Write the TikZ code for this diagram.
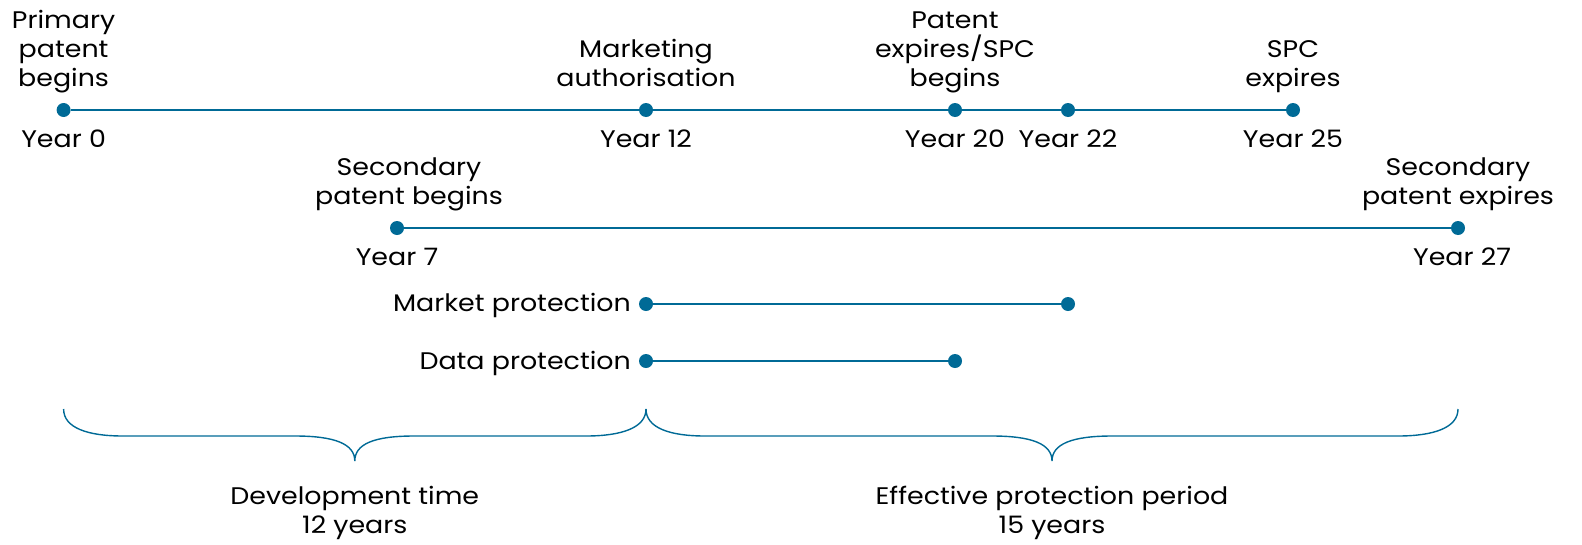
\documentclass[tikz,border=0pt]{standalone}
\usepackage{fontspec}
\setmainfont{Poppins}[FakeStretch=1.12]
\definecolor{tl}{RGB}{0,106,150}
\begin{document}
\begin{tikzpicture}[x=1pt,y=-1pt,
  dot/.style={circle,fill=tl,inner sep=0pt,minimum size=14pt},
  seg/.style={draw=tl,line width=2.5pt},
  brc/.style={draw=tl,line width=1.4pt},
  lbl/.style={inner sep=0pt,align=center,font=\fontsize{24}{29}\selectfont,text depth=0pt},
  yr/.style={inner sep=0pt,anchor=base,font=\fontsize{24}{29}\selectfont}]
\useasboundingbox (0,0) rectangle (1582,544);
% dots, row 1
\node[dot] (d0) at (63.6,110) {};
\node[dot] (d12) at (646,110) {};
\node[dot] (d20) at (955,110) {};
\node[dot] (d22) at (1068,110) {};
\node[dot] (d25) at (1293,110) {};
% row 2
\node[dot] (d7) at (397,228) {};
\node[dot] (d27) at (1458,228) {};
% protection rows
\node[dot] (m1) at (646,304) {};
\node[dot] (m2) at (1068,304) {};
\node[dot] (p1) at (646,361) {};
\node[dot] (p2) at (955,361) {};
% lines
\draw[seg] (d0) -- (d12);
\draw[seg] (d12) -- (d20);
\draw[seg] (d20) -- (d22);
\draw[seg] (d22) -- (d25);
\draw[seg] (d7) -- (d27);
\draw[seg] (m1) -- (m2);
\draw[seg] (p1) -- (p2);
% top labels
\node[lbl,anchor=south] (t0) at (63.6,87) {Primary\\patent\\begins};
\node[lbl,anchor=south] (t12) at (646,87) {Marketing\\authorisation};
\node[lbl,anchor=south] (t20) at (955,87) {Patent\\expires/SPC\\begins};
\node[lbl,anchor=south] (t25) at (1293,87) {SPC\\expires};
\node[lbl,anchor=south] (t7) at (409,205) {Secondary\\patent begins};
\node[lbl,anchor=south] (t27) at (1458,205) {Secondary\\patent expires};
% year labels
\node[yr] (y0) at (63.6,147) {Year 0};
\node[yr] (y12) at (646,147) {Year 12};
\node[yr] (y20) at (955,147) {Year 20};
\node[yr] (y22) at (1068,147) {Year 22};
\node[yr] (y25) at (1293,147) {Year 25};
\node[yr] (y7) at (397,265) {Year 7};
\node[yr] (y27) at (1462,265) {Year 27};
% protection labels
\node[yr,anchor=base east] (lm) at (631,311) {Market protection};
\node[yr,anchor=base east] (lp) at (631,369) {Data protection};
% braces
\draw[brc] (63.6,409) .. controls (63.6,428) and (88,436) .. (123,436)
  -- (295,436) .. controls (335,436) and (354.8,444) .. (354.8,461)
  .. controls (354.8,444) and (374,436) .. (414,436)
  -- (586,436) .. controls (621,436) and (646,428) .. (646,409);
\draw[brc] (646,409) .. controls (646,428) and (670,436) .. (705,436)
  -- (992,436) .. controls (1032,436) and (1052,444) .. (1052,461)
  .. controls (1052,444) and (1072,436) .. (1112,436)
  -- (1398,436) .. controls (1433,436) and (1458,428) .. (1458,409);
% bottom labels
\node[lbl,anchor=south] (bd) at (354.8,534) {Development time\\12 years};
\node[lbl,anchor=south] (be) at (1052,534) {Effective protection period\\15 years};
\end{tikzpicture}
\end{document}
